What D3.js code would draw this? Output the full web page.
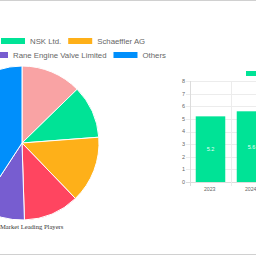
<!DOCTYPE html>
<html>
<head>
<meta charset="utf-8">
<script src="https://cdn.jsdelivr.net/npm/d3@7/dist/d3.min.js"></script>
<style>
  html, body { margin: 0; padding: 0; background: #fff; }
  svg { display: block; }
</style>
</head>
<body>
<div id="chart"></div>
<script>
// pie: market share of leading players (%)
const playerNames = ["Eaton Corporation", "NSK Ltd.", "Schaeffler AG", "Mahle GmbH", "Rane Engine Valve Limited", "Others"];
const playerShares = [12.7, 11.1, 14.0, 11.7, 9.7, 40.8];
const playerColors = ["#F9A3A4", "#00E396", "#FEB019", "#FF4560", "#775DD0", "#008FFB"];

// bar: market size by year
const years = ["2023", "2024"];
const marketSize = [5.2, 5.6];
const yTicks = [0, 1, 2, 3, 4, 5, 6, 7, 8];

const W = 256, H = 256;

const svg = d3.select("#chart")
  .append("svg")
  .attr("width", W)
  .attr("height", H);

// frame lines
svg.append("line").attr("x1", 0).attr("x2", W).attr("y1", 0.5).attr("y2", 0.5)
  .attr("stroke", "#d0d0d0").attr("stroke-width", 1);
svg.append("line").attr("x1", 0).attr("x2", W).attr("y1", 254.5).attr("y2", 254.5)
  .attr("stroke", "#d0d0d0").attr("stroke-width", 1);

// ---- pie ----
const PIE = { cx: 22, cy: 143, r: 77 };

const pie = d3.pie().sort(null).value((d) => d)(playerShares);
const arc = d3.arc().innerRadius(0).outerRadius(PIE.r);

svg.append("g")
  .attr("transform", `translate(${PIE.cx},${PIE.cy})`)
  .selectAll("path")
  .data(pie)
  .enter()
  .append("path")
  .attr("d", arc)
  .attr("fill", (d, i) => playerColors[i])
  .attr("stroke", "#fff")
  .attr("stroke-width", 1);

// legend, two rows, flowing from an anchor item
const LEG = { font: 7.8, box: 24, boxH: 6, textGap: 29, itemGap: 7 };
const legendRows = [
  { items: [0, 1, 2], anchor: 1, anchorX: 1, y: 41 },
  { items: [3, 4, 5], anchor: 4, anchorX: -16, y: 55 },
];

const legend = svg.append("g");
const measure = svg.append("text")
  .style("font-family", "Liberation Sans, Arial, sans-serif")
  .style("font-size", LEG.font + "px");
function textWidth(s) {
  measure.text(s);
  return measure.node().getComputedTextLength();
}

legendRows.forEach((row) => {
  const tw = row.items.map((i) => textWidth(playerNames[i]));
  const widths = tw.map((w) => LEG.textGap + w + LEG.itemGap);
  const a = row.items.indexOf(row.anchor);
  let x = row.anchorX;
  for (let k = a - 1; k >= 0; k--) x -= widths[k];
  row.items.forEach((i, k) => {
    legend.append("rect")
      .attr("x", x).attr("y", row.y - LEG.boxH / 2)
      .attr("width", LEG.box).attr("height", LEG.boxH)
      .attr("fill", playerColors[i]);
    // items scrolled fully off the left edge have no visible label
    if (x + LEG.textGap + tw[k] > 0) {
      legend.append("text")
        .attr("x", x + LEG.textGap).attr("y", row.y)
        .attr("dy", "0.35em")
        .style("font-family", "Liberation Sans, Arial, sans-serif")
        .style("font-size", LEG.font + "px")
        .attr("fill", "#666")
        .text(playerNames[i]);
    }
    x += widths[k];
  });
});
measure.remove();

svg.append("text")
  .attr("x", 0).attr("y", 229)
  .style("font-family", "Liberation Serif, 'Times New Roman', serif")
  .style("font-size", "6.6px")
  .attr("fill", "#333")
  .text("Market Leading Players");

// ---- bar chart ----
const B = { left: 190, right: 272, top: 81, bottom: 182 };

const x = d3.scaleBand().domain(years).range([B.left, B.right]);
const y = d3.scaleLinear().domain([0, 8]).range([B.bottom, B.top]);

const grid = svg.append("g");
grid.selectAll("line.h")
  .data(yTicks)
  .enter()
  .append("line")
  .attr("x1", B.left - 4).attr("x2", W)
  .attr("y1", (d) => Math.round(y(d)) + 0.5).attr("y2", (d) => Math.round(y(d)) + 0.5)
  .attr("stroke", (d) => (d === 0 ? "#dcdcdc" : "#ececec"))
  .attr("stroke-width", 1);

const vLines = years.map((d) => x(d)).concat([B.right]);
grid.selectAll("line.v")
  .data(vLines)
  .enter()
  .append("line")
  .attr("x1", (d) => Math.round(d) + 0.5).attr("x2", (d) => Math.round(d) + 0.5)
  .attr("y1", B.top).attr("y2", B.bottom + 4)
  .attr("stroke", (d, i) => (i === 0 ? "#dcdcdc" : "#ececec"))
  .attr("stroke-width", 1);

svg.append("g")
  .selectAll("text")
  .data(yTicks)
  .enter()
  .append("text")
  .attr("x", B.left - 5).attr("y", (d) => y(d))
  .attr("dy", "0.35em")
  .attr("text-anchor", "end")
  .style("font-family", "Liberation Sans, Arial, sans-serif")
  .style("font-size", "5.5px")
  .attr("fill", "#666")
  .text((d) => d);

svg.append("g")
  .selectAll("text")
  .data(years)
  .enter()
  .append("text")
  .attr("x", (d) => x(d) + x.bandwidth() / 2 - 0.8).attr("y", B.bottom + 9)
  .attr("text-anchor", "middle")
  .style("font-family", "Liberation Sans, Arial, sans-serif")
  .style("font-size", "5.2px")
  .attr("fill", "#666")
  .text((d) => d);

const barW = x.bandwidth() * 0.72;
const bars = svg.append("g");
bars.selectAll("rect")
  .data(marketSize)
  .enter()
  .append("rect")
  .attr("x", (d, i) => x(years[i]) + (x.bandwidth() - barW) / 2)
  .attr("y", (d) => y(d))
  .attr("width", barW)
  .attr("height", (d) => y(0) - y(d))
  .attr("fill", "#00E396");

bars.selectAll("text")
  .data(marketSize)
  .enter()
  .append("text")
  .attr("x", (d, i) => x(years[i]) + x.bandwidth() / 2)
  .attr("y", (d) => (y(d) + y(0)) / 2)
  .attr("dy", "0.35em")
  .attr("text-anchor", "middle")
  .style("font-family", "Liberation Sans, Arial, sans-serif")
  .style("font-size", "5.5px")
  .attr("fill", "#e8fff5")
  .text((d) => d.toFixed(1));

// bar legend swatch (label runs off the right edge)
svg.append("rect")
  .attr("x", 246).attr("y", 71)
  .attr("width", 24).attr("height", 5)
  .attr("fill", "#00E396");
</script>
</body>
</html>
